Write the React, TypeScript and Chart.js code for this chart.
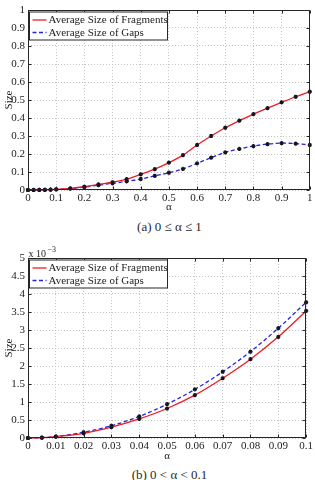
import React, { useEffect, useRef } from "react";
import { Chart, registerables } from "chart.js";

Chart.register(...registerables);

// Full range 0 ≤ α ≤ 1
const alphaFull = [0, 0.02, 0.04, 0.06, 0.08, 0.1, 0.15, 0.2, 0.25, 0.3, 0.35, 0.4, 0.45, 0.5, 0.55, 0.6, 0.65, 0.7, 0.75, 0.8, 0.85, 0.9, 0.95, 1];
const fragmentsFull = [0, 0.00013, 0.00053, 0.00119, 0.00219, 0.00353, 0.009, 0.018, 0.031, 0.043, 0.06, 0.087, 0.116, 0.152, 0.194, 0.25, 0.3, 0.346, 0.385, 0.422, 0.455, 0.487, 0.518, 0.546];
const gapsFull = [0, 0.00016, 0.0006, 0.00135, 0.0024, 0.00377, 0.008, 0.016, 0.027, 0.037, 0.048, 0.061, 0.079, 0.096, 0.117, 0.148, 0.18, 0.209, 0.228, 0.244, 0.255, 0.26, 0.258, 0.25];

// Zoomed range 0 < α < 0.1, sizes in units of 10^-3
const alphaSmall = [0, 0.005, 0.01, 0.02, 0.03, 0.04, 0.05, 0.06, 0.07, 0.08, 0.09, 0.1];
const fragmentsSmall = [0, 0.01, 0.04, 0.13, 0.3, 0.53, 0.82, 1.19, 1.66, 2.19, 2.81, 3.53];
const gapsSmall = [0, 0.01, 0.04, 0.16, 0.34, 0.6, 0.94, 1.35, 1.84, 2.4, 3.05, 3.77];

const xTicksFull = [0, 0.1, 0.2, 0.3, 0.4, 0.5, 0.6, 0.7, 0.8, 0.9, 1];
const yTicksFull = [0, 0.1, 0.2, 0.3, 0.4, 0.5, 0.6, 0.7, 0.8, 0.9, 1];
const xTicksSmall = [0, 0.01, 0.02, 0.03, 0.04, 0.05, 0.06, 0.07, 0.08, 0.09, 0.1];
const yTicksSmall = [0, 0.5, 1, 1.5, 2, 2.5, 3, 3.5, 4, 4.5, 5];

const seriesLabels = ["Average Size of Fragments", "Average Size of Gaps"];
const xTitle = "α";
const yTitle = "Size";
const captionFull = "(a) 0 ≤ α ≤ 1";
const captionSmall = "(b) 0 < α < 0.1";
const exponentText = ["x 10", "−3"];

const SERIF = "'Liberation Serif', 'DejaVu Serif', serif";
const TEXT = "#1c1c1c";
const RED = "rgb(236, 28, 36)";
const BLUE = "rgb(36, 36, 226)";
const GRID = "#c4c4c4";
const FRAME = "#262626";

type Spec = {
  alpha: number[];
  fragments: number[];
  gaps: number[];
  xTicks: number[];
  yTicks: number[];
  height: number;
  padTop: number;
  padRight: number;
  xAxisHeight: number;
  exponent: string[] | null;
};

// Box, inward tick marks, boxed legend and axis multiplier, MATLAB style
const framePlugin = {
  id: "frame",
  afterDraw(chart: any, _args: any, opts: any) {
    const { ctx, chartArea, scales } = chart;
    const l = Math.round(chartArea.left) + 0.5;
    const r = Math.round(chartArea.right) - 0.5;
    const t = Math.round(chartArea.top) + 0.5;
    const b = Math.round(chartArea.bottom) - 0.5;
    ctx.save();
    ctx.setLineDash([]);
    ctx.strokeStyle = FRAME;
    ctx.lineWidth = 1;
    ctx.strokeRect(l, t, r - l, b - t);

    ctx.beginPath();
    scales.x.ticks.forEach((tk: any) => {
      const px = Math.round(scales.x.getPixelForValue(tk.value)) + 0.5;
      ctx.moveTo(px, b);
      ctx.lineTo(px, b - 3);
      ctx.moveTo(px, t);
      ctx.lineTo(px, t + 3);
    });
    scales.y.ticks.forEach((tk: any) => {
      const py = Math.round(scales.y.getPixelForValue(tk.value)) + 0.5;
      ctx.moveTo(l, py);
      ctx.lineTo(l + 3, py);
      ctx.moveTo(r, py);
      ctx.lineTo(r - 3, py);
    });
    ctx.stroke();

    // legend box in the upper-left corner of the plot
    const bx = l + 1;
    const by = t + 1.5;
    const bw = 138;
    const bh = 28;
    ctx.fillStyle = "#ffffff";
    ctx.fillRect(bx, by, bw, bh);
    ctx.strokeStyle = FRAME;
    ctx.strokeRect(bx, by, bw, bh);
    ctx.font = `11px ${SERIF}`;
    ctx.textBaseline = "middle";
    ctx.textAlign = "left";
    chart.data.datasets.forEach((ds: any, i: number) => {
      const y = by + 8 + i * 12.5;
      ctx.strokeStyle = ds.borderColor;
      ctx.lineWidth = 1.3;
      ctx.setLineDash(ds.borderDash || []);
      ctx.beginPath();
      ctx.moveTo(bx + 3, y);
      ctx.lineTo(bx + 17, y);
      ctx.stroke();
      ctx.setLineDash([]);
      ctx.fillStyle = TEXT;
      ctx.fillText(ds.label, bx + 19, y + 0.5);
    });

    if (opts && opts.exponent) {
      ctx.fillStyle = TEXT;
      ctx.textBaseline = "alphabetic";
      ctx.font = `10px ${SERIF}`;
      ctx.fillText(opts.exponent[0], l, t - 2);
      const w = ctx.measureText(opts.exponent[0]).width;
      ctx.font = `8px ${SERIF}`;
      ctx.fillText(opts.exponent[1], l + w + 1.5, t - 7);
    }
    ctx.restore();
  },
};

function series(label: string, xs: number[], ys: number[], color: string, dash: number[]) {
  return {
    label,
    data: xs.map((x, i) => ({ x, y: ys[i] })),
    borderColor: color,
    borderWidth: 1.3,
    borderDash: dash,
    cubicInterpolationMode: "monotone",
    fill: false,
    clip: false,
    pointStyle: "star",
    pointRadius: 2.1,
    pointBorderWidth: 1.2,
    pointBorderColor: "#151520",
    pointBackgroundColor: "#151520",
  };
}

function buildConfig(p: Spec): any {
  const font = { family: SERIF, size: 11 };
  return {
    type: "line",
    data: {
      datasets: [
        series(seriesLabels[0], p.alpha, p.fragments, RED, []),
        series(seriesLabels[1], p.alpha, p.gaps, BLUE, [4, 2.5]),
      ],
    },
    options: {
      responsive: false,
      animation: false,
      devicePixelRatio: 1,
      layout: { padding: { top: p.padTop, right: p.padRight, left: 0, bottom: 0 } },
      plugins: {
        legend: { display: false },
        tooltip: { enabled: false },
        frame: { exponent: p.exponent },
      },
      scales: {
        x: {
          type: "linear",
          min: p.xTicks[0],
          max: p.xTicks[p.xTicks.length - 1],
          afterBuildTicks: (s: any) => {
            s.ticks = p.xTicks.map((value) => ({ value }));
          },
          afterFit: (s: any) => {
            s.height = p.xAxisHeight;
          },
          ticks: { font, color: TEXT, padding: 2, maxRotation: 0, autoSkip: false, callback: (v: number) => String(v) },
          grid: { color: GRID, lineWidth: 1, drawTicks: false },
          border: { display: false, dash: [1, 2] },
          title: { display: true, text: xTitle, font, color: TEXT, padding: 0 },
        },
        y: {
          type: "linear",
          min: p.yTicks[0],
          max: p.yTicks[p.yTicks.length - 1],
          afterBuildTicks: (s: any) => {
            s.ticks = p.yTicks.map((value) => ({ value }));
          },
          afterFit: (s: any) => {
            s.width = 28;
          },
          ticks: { font, color: TEXT, padding: 3, autoSkip: false, callback: (v: number) => String(v) },
          grid: { color: GRID, lineWidth: 1, drawTicks: false },
          border: { display: false, dash: [1, 2] },
          title: { display: true, text: yTitle, font, color: TEXT, padding: { top: 3, bottom: 0 } },
        },
      },
    },
    plugins: [framePlugin],
  };
}

function Plot({ spec }: { spec: Spec }) {
  const ref = useRef<HTMLCanvasElement>(null);
  useEffect(() => {
    const chart = new Chart(ref.current as HTMLCanvasElement, buildConfig(spec));
    return () => chart.destroy();
  }, [spec]);
  return (
    <canvas
      ref={ref}
      width={315}
      height={spec.height}
      style={{ display: "block", width: 315, height: spec.height }}
    />
  );
}

const fullSpec: Spec = {
  alpha: alphaFull,
  fragments: fragmentsFull,
  gaps: gapsFull,
  xTicks: xTicksFull,
  yTicks: yTicksFull,
  height: 214,
  padTop: 10,
  padRight: 4,
  xAxisHeight: 24,
  exponent: null,
};

const smallSpec: Spec = {
  alpha: alphaSmall,
  fragments: fragmentsSmall,
  gaps: gapsSmall,
  xTicks: xTicksSmall,
  yTicks: yTicksSmall,
  height: 223,
  padTop: 18,
  padRight: 8,
  xAxisHeight: 25,
  exponent: exponentText,
};

const captionStyle = (top: number): React.CSSProperties => ({
  position: "absolute",
  left: 28,
  width: 283,
  top,
  textAlign: "center",
  fontFamily: SERIF,
  fontSize: 13,
  lineHeight: "15px",
  color: "#2a2a2a",
});

export default function App() {
  return (
    <div style={{ position: "absolute", left: 0, top: 0, width: 315, height: 480, background: "#ffffff" }}>
      <div style={{ position: "absolute", left: 0, top: 0 }}>
        <Plot spec={fullSpec} />
      </div>
      <div style={captionStyle(219)}>{captionFull}</div>
      <div style={{ position: "absolute", left: 0, top: 240 }}>
        <Plot spec={smallSpec} />
      </div>
      <div style={captionStyle(467)}>{captionSmall}</div>
    </div>
  );
}
